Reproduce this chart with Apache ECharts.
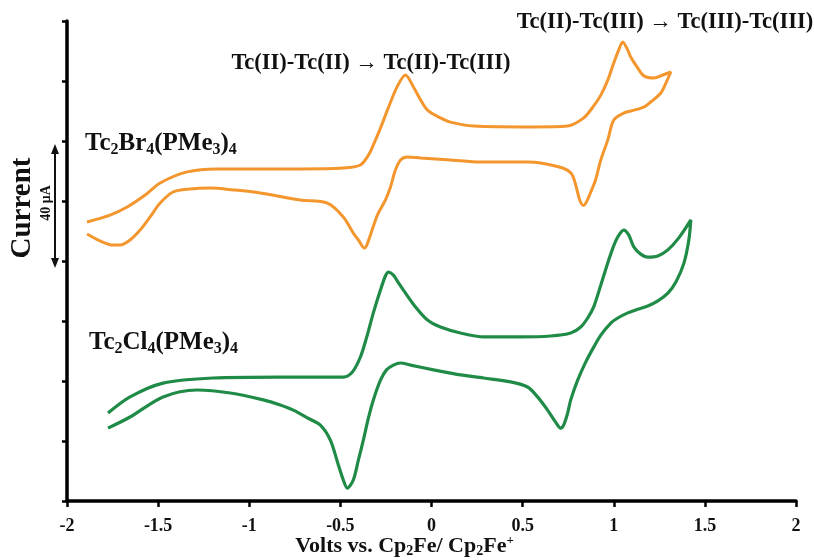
<!DOCTYPE html>
<html>
<head>
<meta charset="utf-8">
<script src="https://cdn.jsdelivr.net/npm/echarts@6/dist/echarts.min.js"></script>
<style>
html, body { margin: 0; padding: 0; background: #fff; }
#chart { width: 814px; height: 560px; }
</style>
</head>
<body>
<div id="chart"></div>
<script>
// axis ranges
var voltMin = -2, voltMax = 2, voltStep = 0.5;
var currentMin = 0, currentMax = 160, currentStep = 20;   // uA, curves offset vertically

// Tc2Br4(PMe3)4 : forward sweep then reverse sweep
var brVolts = [
  -1.890, -1.764, -1.670, -1.571, -1.489, -1.341, -1.176, -0.995, -0.720, -0.484,
  -0.390, -0.346, -0.319, -0.280, -0.242, -0.187, -0.143, -0.099, -0.060, -0.022,
  0.049, 0.104, 0.231, 0.560, 0.747, 0.835, 0.890, 0.929, 0.967, 1.000,
  1.027, 1.049, 1.077, 1.093, 1.132, 1.165, 1.220, 1.269, 1.313,
  1.286, 1.258, 1.203, 1.165, 1.093, 1.055, 1.000, 0.967, 0.929, 0.900,
  0.874, 0.855, 0.835, 0.815, 0.800, 0.785, 0.765, 0.720, 0.599, 0.527,
  0.400, 0.269, 0.104, -0.060, -0.132, -0.170, -0.198, -0.225, -0.253,
  -0.297, -0.335, -0.357, -0.368, -0.401, -0.429, -0.484, -0.571, -0.720, -0.940,
  -1.088, -1.214, -1.324, -1.418, -1.489, -1.544, -1.599, -1.654, -1.709, -1.747,
  -1.819, -1.890
];
var brCurrent = [
  93.0, 95.3, 98.0, 102.0, 106.0, 109.7, 110.7, 110.7, 110.7, 111.0,
  112.0, 115.3, 118.7, 124.3, 130.3, 138.3, 142.0, 138.0, 133.7, 130.3,
  127.7, 126.3, 125.0, 124.7, 125.0, 127.7, 131.7, 135.3, 140.3, 146.0,
  150.3, 153.0, 150.3, 148.0, 144.3, 141.7, 141.0, 142.0, 143.0,
  139.3, 136.0, 133.0, 131.3, 130.0, 129.3, 127.0, 120.3, 113.7, 107.0,
  103.0, 100.3, 98.5, 100.0, 103.3, 106.7, 109.3, 111.0, 112.7, 113.0,
  113.0, 113.0, 113.7, 114.3, 114.7, 113.7, 110.3, 104.7, 100.3,
  95.3, 88.7, 85.0, 84.3, 87.0, 89.3, 94.7, 99.3, 100.3, 102.7,
  103.7, 104.3, 104.0, 103.0, 99.3, 94.7, 90.3, 87.0, 85.3, 85.3,
  86.7, 89.0
];

// Tc2Cl4(PMe3)4 : forward sweep then reverse sweep
var clVolts = [
  -1.775, -1.654, -1.473, -1.198, -0.830, -0.484, -0.434, -0.390, -0.357, -0.319,
  -0.280, -0.253, -0.236, -0.209, -0.181, -0.154, -0.088, -0.022, 0.049, 0.159,
  0.286, 0.489, 0.654, 0.764, 0.819, 0.857, 0.890, 0.929, 0.967, 0.995,
  1.022, 1.055, 1.082, 1.110, 1.148, 1.187, 1.242, 1.297, 1.357, 1.423,
  1.412, 1.385, 1.341, 1.297, 1.242, 1.187, 1.121, 1.077, 1.022, 0.984,
  0.929, 0.890, 0.846, 0.802, 0.764, 0.747, 0.725, 0.709, 0.681, 0.637,
  0.582, 0.527, 0.434, 0.286, 0.132, 0.011, -0.115, -0.170, -0.209, -0.247,
  -0.280, -0.319, -0.346, -0.374, -0.401, -0.429, -0.462, -0.484, -0.511, -0.555,
  -0.610, -0.681, -0.758, -0.830, -0.923, -1.104, -1.286, -1.473, -1.654, -1.775
];
var clCurrent = [
  29.3, 34.7, 39.3, 41.0, 41.3, 41.3, 43.0, 48.0, 54.3, 62.7,
  70.3, 75.0, 76.3, 75.3, 72.7, 70.3, 64.7, 60.3, 58.0, 56.0,
  54.7, 54.7, 55.0, 56.0, 58.0, 61.0, 64.7, 72.0, 79.3, 84.3,
  88.0, 90.3, 88.7, 84.7, 82.3, 81.3, 81.7, 83.7, 87.7, 93.7,
  87.0, 79.3, 73.0, 69.3, 66.7, 65.0, 63.7, 62.7, 61.0, 59.3,
  55.3, 51.3, 46.3, 40.3, 33.7, 29.3, 25.3, 24.3, 26.3, 30.3,
  34.7, 38.0, 39.7, 41.0, 42.3, 43.7, 45.3, 46.0, 45.3, 43.7,
  40.3, 33.7, 27.7, 20.3, 13.7, 7.0, 4.3, 7.0, 12.0, 20.3,
  25.3, 27.7, 30.3, 32.0, 33.7, 36.0, 37.0, 34.7, 28.0, 24.3
];

var serif = "'Liberation Serif', 'DejaVu Serif', serif";
var orange = '#f4962e';
var green = '#1f8b47';

function pairs(xs, ys) {
  return xs.map(function (x, i) { return [x, ys[i]]; });
}

var subStyle = {
  fontSize: 16, fontWeight: 'bold', fontFamily: serif, verticalAlign: 'bottom'
};

var chart = echarts.init(document.getElementById('chart'));

var option = {
  animation: false,
  backgroundColor: '#fff',
  grid: { left: 67, right: 18, top: 21, bottom: 59, outerBoundsMode: 'none' },
  xAxis: {
    type: 'value',
    min: voltMin, max: voltMax, interval: voltStep,
    name: 'Volts vs. Cp{s|2}Fe/ Cp{s|2}Fe{p|+}',
    nameLocation: 'middle',
    nameGap: 33,
    nameMoveOverlap: false,
    nameTextStyle: {
      color: '#111', fontSize: 22, fontWeight: 'bold', fontFamily: serif,
      lineHeight: 24, padding: [0, 54, 0, 0],
      rich: {
        s: { fontSize: 14, fontWeight: 'bold', fontFamily: serif, verticalAlign: 'bottom', color: '#111' },
        p: { fontSize: 13, fontWeight: 'bold', fontFamily: serif, verticalAlign: 'top', color: '#111' }
      }
    },
    axisLine: { onZero: false, lineStyle: { color: '#000', width: 3.5 } },
    axisTick: { length: 6, lineStyle: { color: '#000', width: 2.5 } },
    axisLabel: { color: '#111', fontSize: 18, fontWeight: 'bold', fontFamily: serif, margin: 16 },
    splitLine: { show: false }
  },
  yAxis: {
    type: 'value',
    min: currentMin, max: currentMax, interval: currentStep,
    axisLine: { show: true, onZero: false, lineStyle: { color: '#000', width: 3.5 } },
    axisTick: { show: true, length: 5, lineStyle: { color: '#000', width: 2.5 } },
    axisLabel: { show: false },
    splitLine: { show: false }
  },
  series: [
    {
      name: 'Tc2Br4(PMe3)4',
      type: 'line',
      data: pairs(brVolts, brCurrent),
      showSymbol: false,
      smooth: 0.3,
      silent: true,
      lineStyle: { color: orange, width: 3 }
    },
    {
      name: 'Tc2Cl4(PMe3)4',
      type: 'line',
      data: pairs(clVolts, clCurrent),
      showSymbol: false,
      smooth: 0.3,
      silent: true,
      lineStyle: { color: green, width: 3.2 }
    }
  ],
  graphic: [
    {
      type: 'text', x: 23, y: 208, rotation: Math.PI / 2,
      style: { text: 'Current', fontSize: 29, fontWeight: 'bold', fontFamily: serif,
               fill: '#111', align: 'center', verticalAlign: 'middle' }
    },
    {
      type: 'text', x: 46, y: 203, rotation: Math.PI / 2,
      style: { text: '40 μA', fontSize: 14, fontWeight: 'bold', fontFamily: serif,
               fill: '#111', align: 'center', verticalAlign: 'middle' }
    },
    // 40 uA scale arrow
    {
      type: 'line',
      shape: { x1: 55, y1: 150, x2: 55, y2: 262 },
      style: { stroke: '#111', lineWidth: 2 }
    },
    {
      type: 'polygon',
      shape: { points: [[55, 144], [51, 154], [59, 154]] },
      style: { fill: '#111' }
    },
    {
      type: 'polygon',
      shape: { points: [[55, 268], [51, 258], [59, 258]] },
      style: { fill: '#111' }
    },
    {
      type: 'text', x: 85, y: 144,
      style: {
        text: 'Tc{s|2}Br{s|4}(PMe{s|3}){s|4}',
        fontSize: 25, fontWeight: 'bold', fontFamily: serif, lineHeight: 28,
        fill: '#111', align: 'left', verticalAlign: 'middle',
        rich: { s: subStyle }
      }
    },
    {
      type: 'text', x: 89, y: 343,
      style: {
        text: 'Tc{s|2}Cl{s|4}(PMe{s|3}){s|4}',
        fontSize: 25, fontWeight: 'bold', fontFamily: serif, lineHeight: 28,
        fill: '#111', align: 'left', verticalAlign: 'middle',
        rich: { s: subStyle }
      }
    },
    {
      type: 'text', x: 371, y: 63,
      style: {
        text: 'Tc(II)-Tc(II) → Tc(II)-Tc(III)',
        fontSize: 22.5, fontWeight: 'bold', fontFamily: serif,
        fill: '#111', align: 'center', verticalAlign: 'middle'
      }
    },
    {
      type: 'text', x: 665, y: 22,
      style: {
        text: 'Tc(II)-Tc(III) → Tc(III)-Tc(III)',
        fontSize: 22.5, fontWeight: 'bold', fontFamily: serif,
        fill: '#111', align: 'center', verticalAlign: 'middle'
      }
    }
  ]
};

chart.setOption(option);
</script>
</body>
</html>
